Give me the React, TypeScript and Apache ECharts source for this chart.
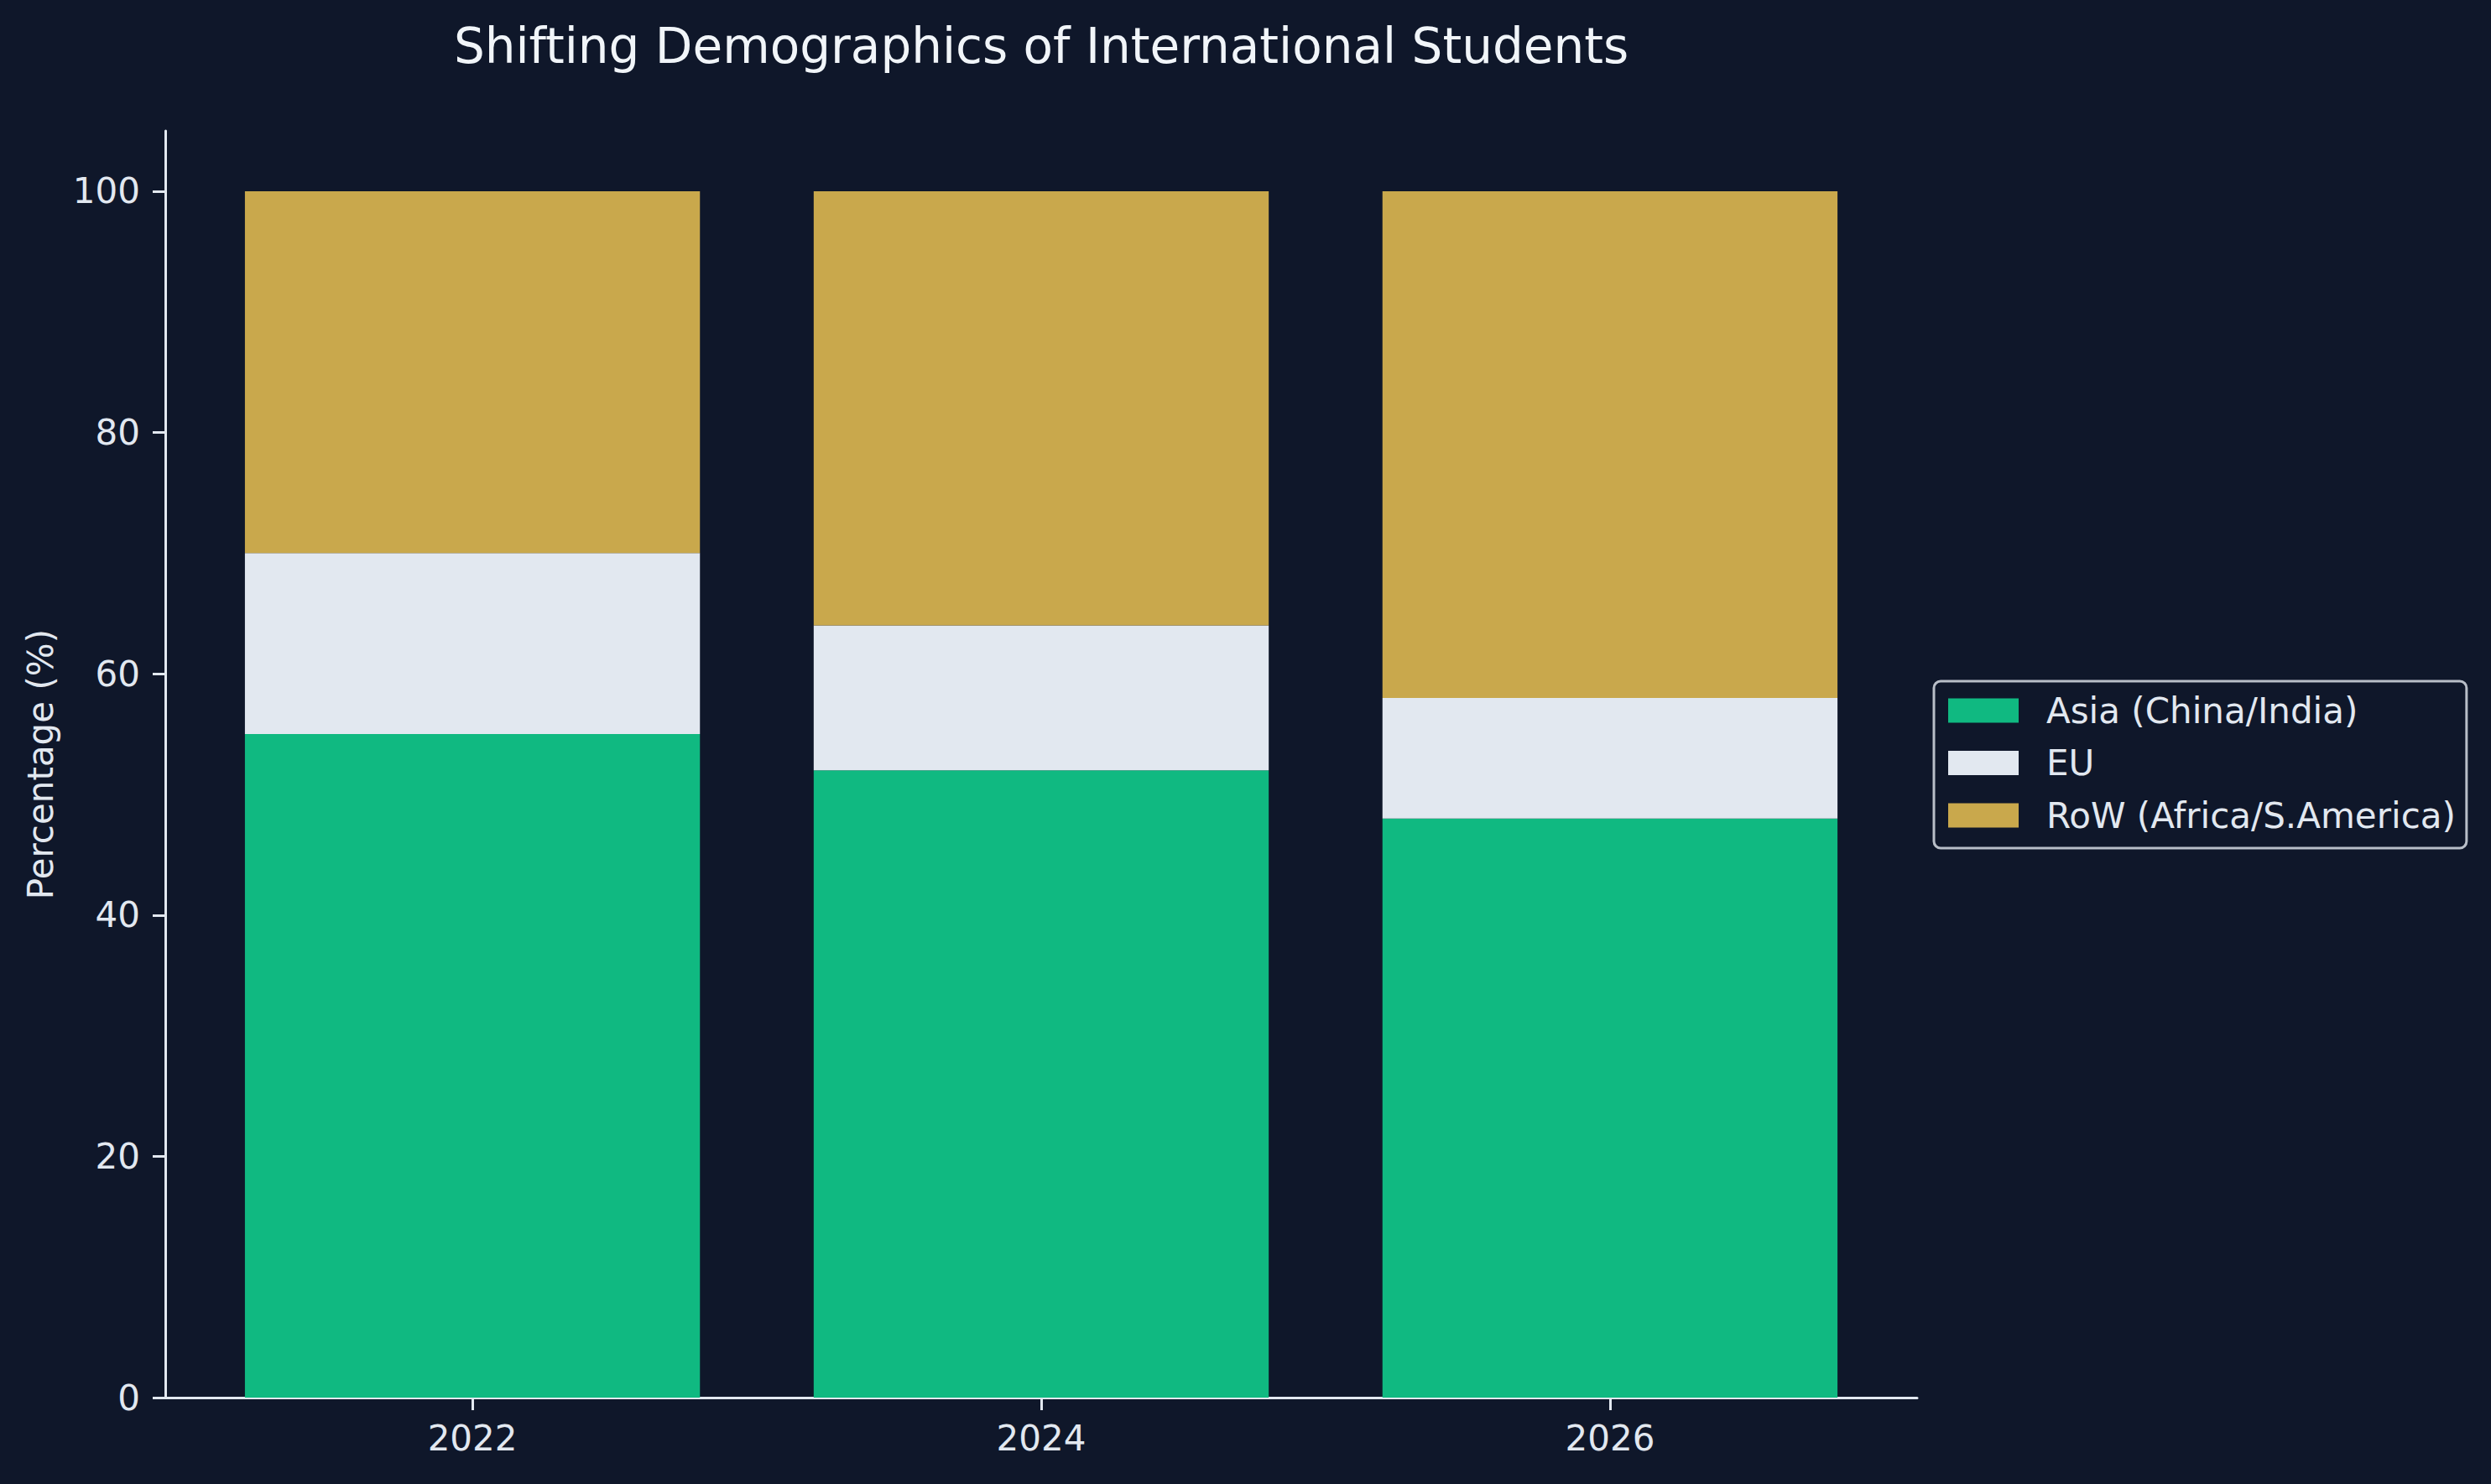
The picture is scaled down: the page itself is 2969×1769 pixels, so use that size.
import React, { useEffect, useRef } from "react";
import * as echarts from "echarts";

// Share of international students by region, per intake year (%)
const years = ["2022", "2024", "2026"];
const asia = [55, 52, 48];
const eu = [15, 12, 10];
const rest = [30, 36, 42];
const yTicks = [0, 20, 40, 60, 80, 100];

const seriesNames = ["Asia (China/India)", "EU", "RoW (Africa/S.America)"];
const seriesColors = ["#10b981", "#e2e8f0", "#c9a84c"];

const W = 2969;
const H = 1769;
const BG = "#0f172a";
const FG = "#e2e8f0";
const FONT = "DejaVu Sans";

// Plot frame (spines) and the x range around the three bar slots
const PLOT_L = 197;
const PLOT_R = 2285;
const PLOT_T = 156;
const PLOT_B = 1666;
const X_MIN = -0.54;
const X_MAX = 2.54;
const UNIT = (PLOT_R - PLOT_L) / (X_MAX - X_MIN);

export default function App() {
  const ref = useRef<HTMLDivElement>(null);

  useEffect(() => {
    document.body.style.margin = "0";
    const chart = echarts.init(ref.current!, undefined, { renderer: "svg", width: W, height: H });
    const values = [asia, eu, rest];
    const pos = years.map((_, i) => i);
    // inner grid whose category bands are one x unit wide each
    const innerL = PLOT_L + (-0.5 - X_MIN) * UNIT;
    const innerR = PLOT_R - (X_MAX - 2.5) * UNIT;

    const axisFont = { color: FG, fontSize: 42, fontFamily: FONT };

    chart.setOption({
      animation: false,
      backgroundColor: BG,
      textStyle: { fontFamily: FONT },
      title: {
        text: "Shifting Demographics of International Students",
        left: (PLOT_L + PLOT_R) / 2,
        top: 26,
        padding: 0,
        textAlign: "center",
        textStyle: { color: "#f1f5f9", fontSize: 58, fontWeight: "normal", fontFamily: FONT },
      },
      legend: {
        orient: "vertical",
        left: 2305,
        top: 812,
        padding: [14, 13, 18, 17],
        itemWidth: 84,
        itemHeight: 29,
        itemGap: 20.5,
        icon: "rect",
        backgroundColor: BG,
        borderColor: "rgb(184,190,200)",
        borderWidth: 3,
        borderRadius: 8,
        data: seriesNames,
        textStyle: { ...axisFont, lineHeight: 42, padding: [0, 0, 0, 28] },
      },
      grid: [
        { left: PLOT_L, right: W - PLOT_R, top: PLOT_T, bottom: H - PLOT_B },
        { left: innerL, right: W - innerR, top: PLOT_T, bottom: H - PLOT_B },
      ],
      xAxis: [
        {
          gridIndex: 0,
          type: "value",
          min: X_MIN,
          max: X_MAX,
          splitLine: { show: false },
          axisLine: { show: true, onZero: false, lineStyle: { color: FG, width: 3 } },
          axisTick: { show: true, length: 15, customValues: pos, lineStyle: { color: FG, width: 3 } },
          axisLabel: {
            ...axisFont,
            customValues: pos,
            margin: 27,
            formatter: (v: number) => years[Math.round(v)] ?? "",
          },
        },
        {
          gridIndex: 1,
          type: "category",
          data: years,
          show: false,
        },
      ],
      yAxis: [
        {
          gridIndex: 0,
          type: "value",
          min: 0,
          max: 105,
          name: "Percentage (%)",
          nameLocation: "middle",
          nameGap: 128,
          nameTextStyle: axisFont,
          splitLine: { show: false },
          axisLine: { show: true, onZero: false, lineStyle: { color: FG, width: 3 } },
          axisTick: { show: true, length: 15, customValues: yTicks, lineStyle: { color: FG, width: 3 } },
          axisLabel: { ...axisFont, customValues: yTicks, margin: 30 },
        },
        {
          gridIndex: 1,
          type: "value",
          min: 0,
          max: 105,
          show: false,
          splitLine: { show: false },
        },
      ],
      series: seriesNames.map((name, k) => ({
        name,
        type: "bar",
        stack: "share",
        xAxisIndex: 1,
        yAxisIndex: 1,
        barWidth: "80%",
        itemStyle: { color: seriesColors[k] },
        data: values[k],
      })),
    });

    return () => chart.dispose();
  }, []);

  return <div ref={ref} style={{ width: W, height: H }} />;
}
